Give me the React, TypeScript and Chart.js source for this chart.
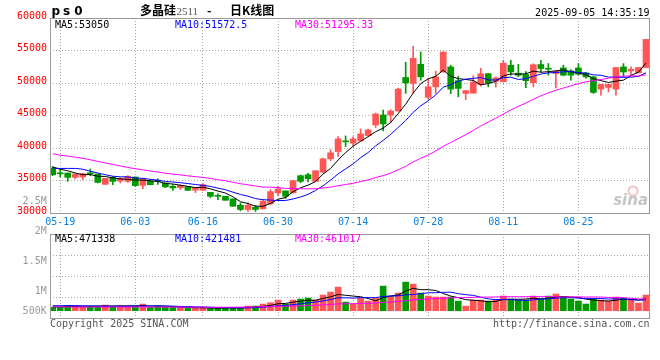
import React, { useEffect, useRef } from "react";
import { Chart, registerables } from "chart.js";
Chart.register(...registerables);

// ---------- data ----------
const dates = [
  "05-16","05-19","05-20","05-21","05-22","05-23","05-26","05-27","05-28","05-29","05-30",
  "06-03","06-04","06-05","06-06","06-09","06-10","06-11","06-12","06-13","06-16","06-17","06-18","06-19","06-20","06-23","06-24","06-25","06-26","06-27","06-30",
  "07-01","07-02","07-03","07-04","07-07","07-08","07-09","07-10","07-11","07-14","07-15","07-16","07-17","07-18","07-21","07-22","07-23","07-24","07-25","07-28","07-29","07-30","07-31",
  "08-01","08-04","08-05","08-06","08-07","08-08","08-11","08-12","08-13","08-14","08-15","08-18","08-19","08-20","08-21","08-22","08-25","08-26","08-27","08-28","08-29",
  "09-01","09-02","09-03","09-04","09-05"
];
const openP = [
  36920,36060,36150,35480,35540,36060,36000,34410,35480,34930,
  34870,35540,34260,34870,34880,34620,34100,33900,34060,33520,
  33520,33180,32580,32570,32170,31190,30540,30890,30640,31450,
  33090,33400,33090,35740,35890,34870,36280,38340,39460,41050,
  40750,41100,41910,43550,45080,45080,45690,50850,49930,52880,
  47790,49410,51700,52470,50360,48400,48440,49750,51430,50280,
  50200,52730,51510,51310,50050,52840,52220,51460,52320,51860,
  52320,51550,50940,49060,49320,49060,52470,51860,51550,52380
];
const highP = [
  37160,36770,36150,36000,36150,36770,36000,35330,35630,35430,
  35740,35540,35240,35130,35240,34620,34360,34360,34060,33900,
  34470,33180,32940,32570,32170,31560,31560,31150,31960,33600,
  34100,33400,34970,35850,36090,36500,38450,39720,41760,41860,
  41710,42930,42930,45380,45840,45890,49210,53190,55640,54770,
  50690,51810,54770,52730,51050,48860,51120,52270,51510,50940,
  53500,53500,52880,51740,52960,53500,52990,51960,52730,52070,
  52990,51660,51050,49780,49780,52380,52990,52470,52380,56710
];
const lowP = [
  35740,35540,34870,35240,35130,35740,34620,34410,34360,34620,
  34710,34100,33750,34320,34410,33900,33490,33600,33440,33140,
  33440,32370,32070,31960,31040,30340,30230,30230,30640,31260,
  32680,32220,33090,34670,34780,34870,36200,38040,38690,40220,
  40330,41100,41860,43160,42630,43930,45690,48400,48400,50430,
  47530,48400,51660,48370,47880,47450,48440,49520,49410,49360,
  50130,51200,50940,49290,49410,51700,51200,49260,51090,50430,
  51200,50740,48400,48140,48640,48140,50940,51200,51550,52380
];
const closeP = [
  35890,36030,35480,36000,36050,36030,34710,35330,34870,35330,
  35630,34210,35240,34360,34860,34010,33860,34260,33490,33900,
  34360,32570,32560,31960,31040,30540,31190,30540,31810,33290,
  33700,32570,34970,34870,35280,36500,38340,39260,41400,40940,
  41400,42170,42780,45230,43700,45690,49060,50020,53800,50940,
  49410,50940,54770,49060,49160,48830,50130,51430,50050,50790,
  53040,51700,51200,50360,52810,52220,52120,51810,51200,51200,
  51350,50940,48550,49780,49780,52380,51700,52120,52380,56710
];
const volumes = [
  130000,130000,208000,182000,130000,182000,182000,221000,182000,182000,
  182000,182000,260000,130000,182000,130000,130000,130000,91000,91000,
  130000,91000,91000,130000,130000,91000,182000,182000,260000,312000,
  417000,260000,417000,456000,495000,417000,612000,729000,924000,338000,
  260000,482000,377000,482000,963000,573000,690000,1119000,1041000,690000,
  573000,534000,534000,534000,377000,182000,417000,417000,377000,417000,
  573000,456000,417000,417000,573000,456000,573000,651000,534000,456000,
  377000,260000,456000,417000,377000,534000,495000,417000,299000,612000
];
// moving-average values before a full window exists
const ma5Head = [37070, 36740, 36500, 36150];
const ma10Head = [36890, 36860, 36860, 36860, 36740, 36430, 36150, 35890, 35660];
const ma30Head = [
  39110,38880,38760,38600,38420,38190,37940,37700,37470,37240,
  37010,36810,36630,36460,36310,36120,35990,35860,35710,35590,
  35480,35310,35130,34970,34710,34520,34330,34160,33980
];
const vma5Head = [150000, 152000, 160000, 165000];
const vma10Head = [195000, 195000, 200000, 200000, 195000, 190000, 185000, 180000, 178000];
const vma30Head = [
  150000,150000,149000,148000,148000,147000,147000,146000,146000,146000,
  145000,145000,145000,144000,144000,143000,142000,141000,140000,139000,
  138000,137000,136000,136000,137000,140000,145000,150000,155000
];
const dateTickLabels = ["05-19","06-03","06-16","06-30","07-14","07-28","08-11","08-25"];
const priceTickStep = 5000;
const priceMin = 30000;
const priceMax = 60000;
const volMin = -285000;
const volMax = 3000000;
const volAxisLabels = ["2.5M", "2M", "1.5M", "1M", "500K"];
const titleCode = "ps0";
const productName = "多晶硅";
const contractCode = "2511";
const chartKind = "日K线图";
const timestamp = "2025-09-05 14:35:19";
const priceLegend = ["MA5:53050", "MA10:51572.5", "MA30:51295.33"];
const volLegend = ["MA5:471338", "MA10:421481", "MA30:461017"];
const copyrightText = "Copyright 2025 SINA.COM";
const urlText = "http://finance.sina.com.cn";

// ---------- styles ----------
const UP = "#ff5555";
const DOWN = "#009900";
const MA_COLORS = ["#000000", "#0000ff", "#ff00ff"];
const GRID = "#a8a8a8";
const FRAME = "#999999";
const MONO = '"DejaVu Sans Mono", "Liberation Mono", monospace';
const X_MIN = -0.36;
const X_MAX = 79.4;

function movingAvg(vals: number[], n: number, head: number[]) {
  return vals.map((_, i) => {
    if (i < n - 1) return head[i];
    let s = 0;
    for (let k = i - n + 1; k <= i; k++) s += vals[k];
    return s / n;
  });
}

const isUp = closeP.map((c, i) => c >= openP[i]);
const candleColors = isUp.map((u) => (u ? UP : DOWN));
const tickIdx = dateTickLabels.map((d) => dates.indexOf(d));

const ma5 = movingAvg(closeP, 5, ma5Head);
const ma10 = movingAvg(closeP, 10, ma10Head);
const ma30 = movingAvg(closeP, 30, ma30Head);
const vma5 = movingAvg(volumes, 5, vma5Head);
const vma10 = movingAvg(volumes, 10, vma10Head);
const vma30 = movingAvg(volumes, 30, vma30Head);

function lineSet(label: string, vals: number[], color: string) {
  return {
    type: "line" as const,
    label,
    data: vals.map((v, i) => ({ x: i, y: v })),
    borderColor: color,
    borderWidth: 1,
    pointRadius: 0,
    tension: 0,
    order: 0,
  };
}

const mainDecor = {
  id: "mainDecor",
  afterDraw(chart: any) {
    const { ctx, chartArea } = chart;
    const { left, top, right, bottom } = chartArea;
    ctx.save();
    // watermark
    ctx.strokeStyle = "rgba(230,120,120,0.45)";
    ctx.lineWidth = 2;
    ctx.beginPath();
    ctx.arc(right - 16, bottom - 22, 4.5, 0, Math.PI * 2);
    ctx.stroke();
    ctx.fillStyle = "rgba(150,150,150,0.55)";
    ctx.font = 'italic bold 15px "DejaVu Sans"';
    ctx.textAlign = "right";
    ctx.textBaseline = "alphabetic";
    ctx.fillText("sina", right - 1, bottom - 8);
    // frame
    ctx.strokeStyle = FRAME;
    ctx.lineWidth = 1;
    const l = Math.round(left), t = Math.round(top), r = Math.round(right), b = Math.round(bottom);
    ctx.strokeRect(l + 0.5, t + 0.5, r - l, b - t);
    // title
    ctx.textAlign = "left";
    ctx.fillStyle = "#000";
    ctx.font = 'bold 12px "DejaVu Sans"';
    titleCode.split("").forEach((ch, i) => ctx.fillText(ch, left + 1.5 + i * 11.4, top - 3));
    ctx.font = 'bold 12px "Noto Sans CJK SC"';
    ctx.fillText(productName, left + 90, top - 3.5);
    const w1 = ctx.measureText(productName).width;
    ctx.font = '11px "Liberation Serif"';
    ctx.fillStyle = "#555";
    ctx.fillText(contractCode, left + 90 + w1 + 0.5, top - 3.5);
    ctx.fillStyle = "#000";
    ctx.font = 'bold 12px "Noto Sans CJK SC"';
    ctx.fillText("-", left + 157, top - 3.5);
    ctx.fillText(chartKind, left + 180, top - 3.5);
    // timestamp
    ctx.font = "10px " + MONO;
    ctx.textAlign = "right";
    ctx.fillText(timestamp, right + 0.5, top - 2.5);
    // legend
    ctx.textAlign = "left";
    priceLegend.forEach((txt, i) => {
      ctx.fillStyle = MA_COLORS[i];
      ctx.fillText(txt, left + 5 + i * 120, top + 9.5);
    });
    ctx.restore();
  },
};

const volDecor = {
  id: "volDecor",
  afterDraw(chart: any) {
    const { ctx, chartArea } = chart;
    const { left, top, right, bottom } = chartArea;
    ctx.save();
    ctx.strokeStyle = FRAME;
    ctx.lineWidth = 1;
    const l = Math.round(left), t = Math.round(top), r = Math.round(right), b = Math.round(bottom);
    ctx.strokeRect(l + 0.5, t + 0.5, r - l, b - t);
    ctx.font = "10px " + MONO;
    ctx.textBaseline = "alphabetic";
    ctx.textAlign = "left";
    volLegend.forEach((txt, i) => {
      ctx.fillStyle = MA_COLORS[i];
      ctx.fillText(txt, left + 5 + i * 120, top + 7.7);
    });
    // axis labels (placed as in the reference)
    const offs = [-30, 0, 30, 60, 80];
    ctx.fillStyle = "#999";
    ctx.textAlign = "right";
    volAxisLabels.forEach((txt, i) => ctx.fillText(txt, left - 3.3, top + offs[i]));
    // footer
    ctx.fillStyle = "#555";
    ctx.textAlign = "left";
    ctx.fillText(copyrightText, left, bottom + 8.7);
    ctx.textAlign = "right";
    ctx.fillText(urlText, right + 0.5, bottom + 8.7);
    ctx.restore();
  },
};

function dottedGridColor(edgeA: number, edgeB: number) {
  return (c: any) => {
    const v = c.tick ? c.tick.value : null;
    return v === edgeA || v === edgeB ? "rgba(0,0,0,0)" : GRID;
  };
}

export default function App() {
  const mainRef = useRef<HTMLCanvasElement>(null);
  const volRef = useRef<HTMLCanvasElement>(null);

  useEffect(() => {
    document.body.style.margin = "0";
    document.body.style.background = "#fff";

    const mainChart = new Chart(mainRef.current as HTMLCanvasElement, {
      type: "bar",
      data: {
        datasets: [
          lineSet("MA30", ma30, MA_COLORS[2]),
          lineSet("MA10", ma10, MA_COLORS[1]),
          lineSet("MA5", ma5, MA_COLORS[0]),
          {
            type: "bar",
            label: "body",
            data: dates.map((_, i) => ({ x: i, y: [openP[i], closeP[i]] })),
            backgroundColor: candleColors,
            barThickness: 6,
            minBarLength: 1,
            grouped: false,
            order: 1,
          } as any,
          {
            type: "bar",
            label: "wick",
            data: dates.map((_, i) => ({ x: i, y: [lowP[i], highP[i]] })),
            backgroundColor: candleColors,
            barThickness: 1,
            grouped: false,
            order: 2,
          } as any,
        ],
      },
      options: {
        animation: false,
        responsive: false,
        maintainAspectRatio: false,
        events: [],
        layout: { padding: { left: 0, right: 11, top: 18, bottom: 0 } },
        plugins: { legend: { display: false }, tooltip: { enabled: false } },
        scales: {
          x: {
            type: "linear",
            min: X_MIN,
            max: X_MAX,
            offset: false,
            grid: { color: GRID, drawTicks: false, offset: false, lineWidth: 1 },
            border: { display: false, dash: [1, 2] },
            ticks: {
              autoSkip: false,
              maxRotation: 0,
              minRotation: 0,
              padding: 3,
              color: "#0a80dc",
              font: { family: MONO, size: 10 },
              callback: (_v: any, i: number) => dateTickLabels[i],
            },
            afterBuildTicks: (s: any) => {
              s.ticks = tickIdx.map((v) => ({ value: v }));
            },
            afterFit: (s: any) => {
              s.height = 19;
            },
          },
          y: {
            type: "linear",
            min: priceMin,
            max: priceMax,
            grid: { color: dottedGridColor(priceMin, priceMax), drawTicks: false },
            border: { display: false, dash: [1, 2] },
            ticks: {
              stepSize: priceTickStep,
              padding: 3,
              labelOffset: -2,
              color: "#ff0000",
              font: { family: MONO, size: 10 },
              callback: (v: any) => String(v),
            },
            afterFit: (s: any) => {
              s.width = 50;
            },
          },
        },
      } as any,
      plugins: [mainDecor],
    });

    const volChart = new Chart(volRef.current as HTMLCanvasElement, {
      type: "bar",
      data: {
        datasets: [
          lineSet("VMA30", vma30, MA_COLORS[2]),
          lineSet("VMA10", vma10, MA_COLORS[1]),
          lineSet("VMA5", vma5, MA_COLORS[0]),
          {
            type: "bar",
            label: "volume",
            data: volumes.map((v, i) => ({ x: i, y: v })),
            backgroundColor: candleColors,
            barThickness: 6,
            grouped: false,
            order: 1,
          } as any,
        ],
      },
      options: {
        animation: false,
        responsive: false,
        maintainAspectRatio: false,
        events: [],
        layout: { padding: { left: 0, right: 11, top: 44, bottom: 0 } },
        plugins: { legend: { display: false }, tooltip: { enabled: false } },
        scales: {
          x: {
            type: "linear",
            min: X_MIN,
            max: X_MAX,
            offset: false,
            grid: { color: GRID, drawTicks: false, offset: false },
            border: { display: false, dash: [1, 2] },
            ticks: { display: false },
            afterBuildTicks: (s: any) => {
              s.ticks = tickIdx.map((v) => ({ value: v }));
            },
            afterFit: (s: any) => {
              s.height = 42;
            },
          },
          y: {
            type: "linear",
            min: volMin,
            max: volMax,
            grid: { color: dottedGridColor(volMin, volMax), drawTicks: false },
            border: { display: false, dash: [1, 2] },
            ticks: { display: false },
            afterBuildTicks: (s: any) => {
              const step = (volMax - volMin) / 4;
              s.ticks = [0, 1, 2, 3, 4].map((k) => ({ value: volMin + k * step }));
            },
            afterFit: (s: any) => {
              s.width = 50;
            },
          },
        },
      } as any,
      plugins: [volDecor],
    });

    return () => {
      mainChart.destroy();
      volChart.destroy();
    };
  }, []);

  return (
    <div style={{ position: "relative", width: 660, height: 360, background: "#fff", overflow: "hidden" }}>
      <canvas ref={mainRef} width={660} height={232} style={{ position: "absolute", left: 0, top: 0 }} />
      <canvas ref={volRef} width={660} height={170} style={{ position: "absolute", left: 0, top: 190 }} />
    </div>
  );
}
